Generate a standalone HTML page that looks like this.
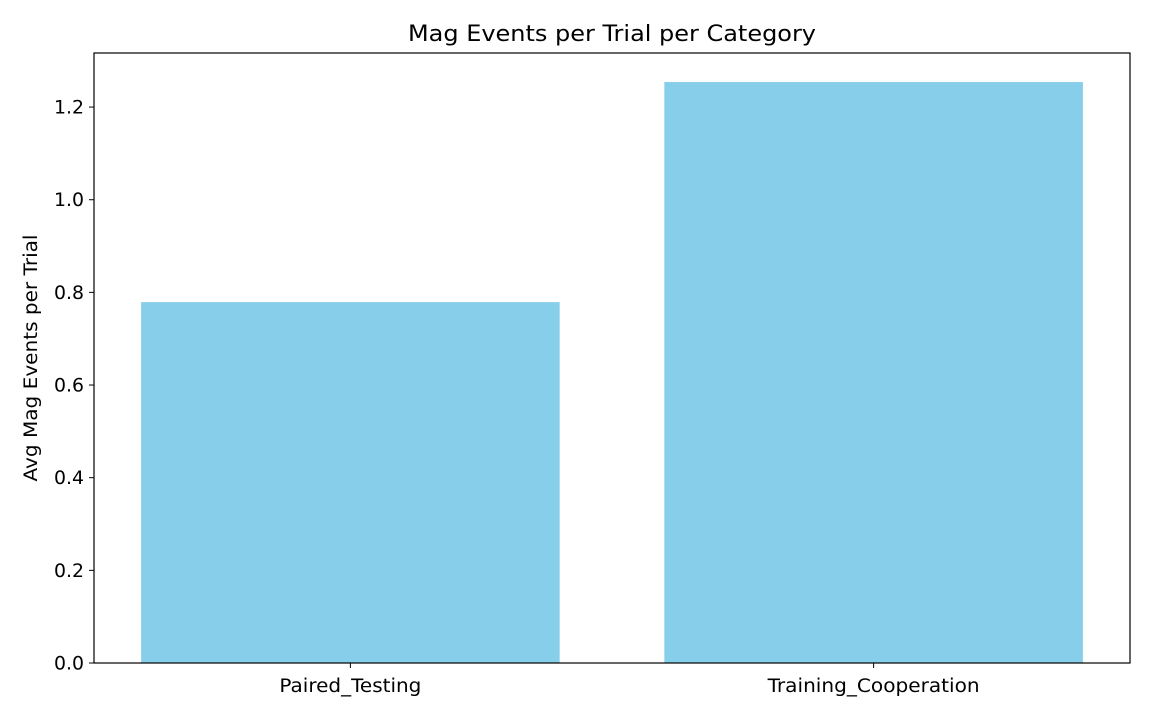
<!DOCTYPE html>
<html><head><meta charset="utf-8"><style>
body{margin:0;background:#fff;}
svg text{font-family:"DejaVu Sans","Liberation Sans",sans-serif;fill:#000;}
</style></head><body>
<svg width="1152" height="720" viewBox="0 0 1152 720" xmlns="http://www.w3.org/2000/svg">
<rect width="1152" height="720" fill="#fff"/>
<g id="plot"></g>
</svg>
<script>
const categories = ["Paired_Testing", "Training_Cooperation"];
const values = [0.779, 1.254];
const yTicks = [0, 0.2, 0.4, 0.6, 0.8, 1.0, 1.2];
const yTickLabels = ["0.0", "0.2", "0.4", "0.6", "0.8", "1.0", "1.2"];

const L = 94, R = 1130, T = 53, B = 663;
const yMax = Math.max(...values) * 1.05;
const y = v => B - v / yMax * (B - T);
const xMin = -0.49, xMax = categories.length - 1 + 0.49;
const x = i => L + (i - xMin) / (xMax - xMin) * (R - L);
const bw = 0.8 * (x(1) - x(0));
const NS = "http://www.w3.org/2000/svg";
const g = document.getElementById('plot');
function mk(tag, attrs, text) {
  const e = document.createElementNS(NS, tag);
  for (const k in attrs) e.setAttribute(k, attrs[k]);
  if (text !== undefined) e.textContent = text;
  g.appendChild(e);
  return e;
}
values.forEach((v, i) => {
  const r = mk('rect', {x: x(i) - bw / 2, y: y(v), width: bw, height: B - y(v), fill: '#87ceeb'});
  
  
  const t = mk('line', {x1: x(i), x2: x(i), y1: B, y2: B + 5, stroke: '#000', 'stroke-width': 1});
  
  
  const l = mk('text', {x: x(i), y: B + 29, 'font-size': 18.5, 'text-anchor': 'middle', textLength: i === 0 ? 142 : 212, lengthAdjust: 'spacingAndGlyphs'}, categories[i]);
  
  
});
yTicks.forEach((v, i) => {
  const t = mk('line', {x1: L - 5, x2: L, y1: y(v), y2: y(v), stroke: '#000', 'stroke-width': 1});
  
  
  const l = mk('text', {x: L - 10, y: y(v) + 6.5, 'font-size': 18.5, 'text-anchor': 'end', textLength: 30, lengthAdjust: 'spacingAndGlyphs'}, yTickLabels[i]);
  
  
});
const frame = mk('rect', {x: L, y: T, width: R - L, height: B - T, fill: 'none', stroke: '#000', 'stroke-width': 1.2});


const title = mk('text', {x: (L + R) / 2, y: 41, 'font-size': 22, 'text-anchor': 'middle', textLength: 408, lengthAdjust: 'spacingAndGlyphs'}, 'Mag Events per Trial per Category');


const yt = mk('text', {x: 0, y: 0, 'font-size': 18.5, 'text-anchor': 'middle', transform: 'translate(37,358) rotate(-90)', textLength: 247, lengthAdjust: 'spacingAndGlyphs'}, 'Avg Mag Events per Trial');


</script>
</body></html>
